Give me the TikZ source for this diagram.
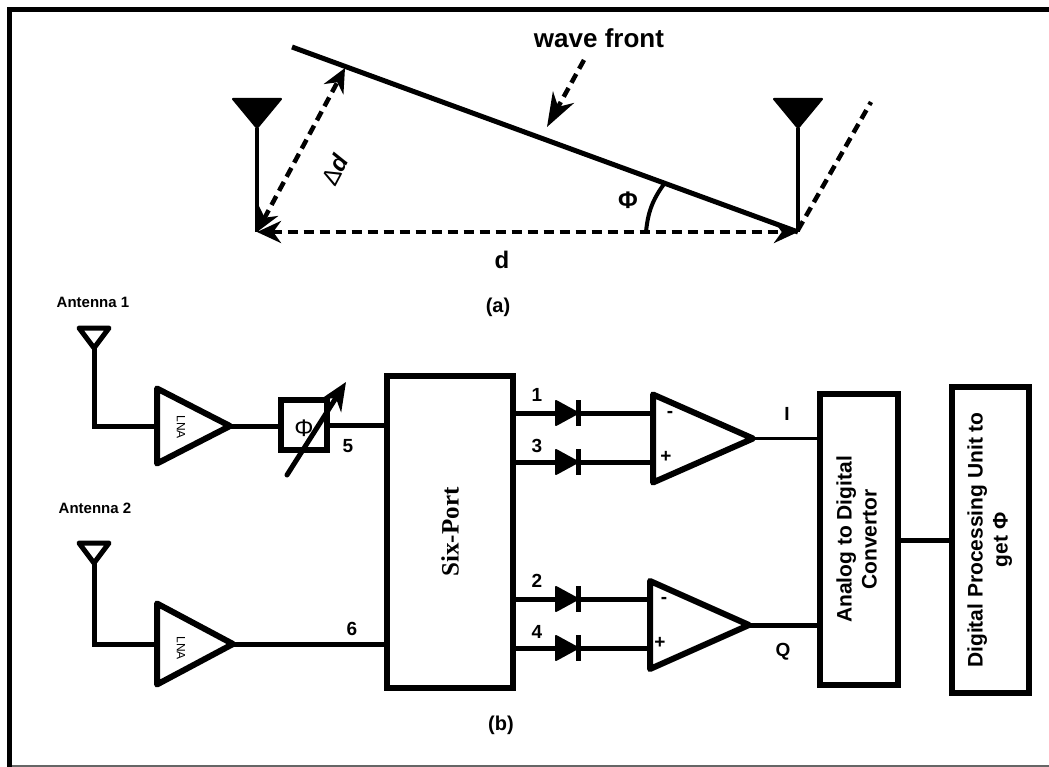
\documentclass[tikz,border=0pt]{standalone}
\usepackage{fontspec}
\setmainfont{Liberation Sans}
\newfontfamily\serifbold{Liberation Serif}
\usetikzlibrary{shapes.geometric, arrows.meta}
\tikzstyle{wire} = [line width=5pt]
\tikzstyle{stem} = [line width=4pt]
\tikzstyle{thinwire} = [line width=3pt]
\tikzstyle{dashline} = [line width=4.5pt, dash pattern=on 10pt off 6pt]
\tikzstyle{arrow} = [>={Stealth[length=24pt,width=22pt]}]
\tikzstyle{block} = [draw, rectangle, line width=6pt, inner sep=0pt, align=center, font=\bfseries\fontsize{21}{25}\selectfont]
\tikzstyle{amp} = [draw, isosceles triangle, isosceles triangle stretches, line width=6pt, line join=round, inner sep=0pt, outer sep=0pt, anchor=west]
\tikzstyle{diode} = [draw, fill, isosceles triangle, isosceles triangle stretches, line width=2pt, line join=round, minimum width=24pt, minimum height=22pt, inner sep=0pt, outer sep=0pt, anchor=west]
\tikzstyle{bigant} = [draw, fill, isosceles triangle, isosceles triangle stretches, shape border rotate=-90, line width=2pt, line join=round, minimum width=48pt, minimum height=29pt, inner sep=0pt, outer sep=0pt, anchor=apex]
\tikzstyle{smallant} = [draw, isosceles triangle, isosceles triangle stretches, shape border rotate=-90, line width=5pt, line join=round, minimum width=30pt, minimum height=20pt, inner sep=0pt, outer sep=0pt, anchor=apex]
\tikzstyle{lbl} = [font=\bfseries\fontsize{19}{22}\selectfont, inner sep=0pt]
\tikzstyle{biglbl} = [font=\bfseries\fontsize{24}{26}\selectfont, inner sep=0pt]
\tikzstyle{smalllbl} = [font=\bfseries\fontsize{15}{17}\selectfont, inner sep=0pt]
\tikzstyle{lnatext} = [font=\fontsize{12}{13}\selectfont, rotate=-90, inner sep=0pt]
\begin{document}
\begin{tikzpicture}[x=1pt, y=-1pt]
        \useasboundingbox (0,0) rectangle (1049,767);
        \draw [line width=5pt] (1049,9.5) -- (9.5,9.5) -- (9.5,767);
        \draw [line width=1.5pt, black!60] (12,766) -- (1049,766);

        % (a)
        \node [bigant] at (257,128) (antleft) {};
        \node [bigant] at (798,128) (antright) {};
        \coordinate (baseleft) at (257,232);
        \coordinate (baseright) at (798,232);
        \coordinate (wavestart) at (292,47);
        \coordinate (wavehit) at (345,68);
        \coordinate (rayend) at (871,102);
        \coordinate (raybase) at (798,230);
        \coordinate (windstart) at (584,60);
        \coordinate (windend) at (547,127);
        \coordinate (arcstart) at (646,232);
        \coordinate (arcend) at (664,184);
        \draw [stem] (antleft.apex) -- (baseleft);
        \draw [stem] (antright.apex) -- (baseright);
        \draw [wire] (wavestart) -- (baseright);
        \draw [dashline, arrow, <->] (baseleft) -- (baseright);
        \draw [dashline, arrow, <->] (baseleft) -- (wavehit);
        \draw [dashline] (raybase) -- (rayend);
        \draw [dashline, -{Stealth[length=34pt,width=24pt]}] (windstart) -- (windend);
        \draw [stem] (arcstart) to [bend left=15] (arcend);
        \node [biglbl, font=\bfseries\fontsize{26}{28}\selectfont] at (599,38) (wavelabel) {wave front};
        \node [biglbl] at (628,200) (philabel) {Φ};
        \node [biglbl, rotate=62] at (335,170) (deltalabel) {\mdseries Δ\bfseries\textit{d}};
        \node [biglbl] at (502,260) (dlabel) {d};
        \node [lbl, font=\bfseries\fontsize{20}{22}\selectfont] at (498,307) (alabel) {(a)};

        % (b)
        \node [smalllbl] at (93,302) (ant1label) {Antenna 1};
        \node [smalllbl] at (95,508) (ant2label) {Antenna 2};
        \node [smallant] at (94,348) (ant1) {};
        \node [smallant] at (94,563) (ant2) {};
        \node [amp, minimum width=75pt, minimum height=73pt] at (157,426) (lna1) {};
        \node [amp, minimum width=81pt, minimum height=76pt] at (157,644) (lna2) {};
        \node [lnatext] at (181,427) (lna1text) {LNA};
        \node [lnatext] at (181,648) (lna2text) {LNA};
        \node [block, minimum width=46pt, minimum height=50pt] at (304,425) (shifter) {};
        \node [font=\fontsize{24}{26}\selectfont, inner sep=0pt] at (304,428) (shiftertext) {Φ};
        \node [block, minimum width=126pt, minimum height=312pt, font=\serifbold\bfseries\fontsize{25}{28}\selectfont] at (450,532) (sixport) {\rotatebox{90}{Six-Port}};
        \coordinate (arrowstart) at (287,475);
        \coordinate (arrowend) at (346,382);
        \draw [wire] (ant1.apex) |- (lna1.west);
        \draw [wire] (ant2.apex) |- (lna2.west);
        \draw [wire] (lna1.apex) -- (shifter.west |- lna1.apex);
        \draw [wire] (shifter.east) -- (sixport.west |- shifter.east);
        \draw [wire] (lna2.apex) -- (sixport.west |- lna2.apex);
        \draw [wire, line cap=round, -{Stealth[length=28pt,width=24pt]}] (arrowstart) -- (arrowend);
        \node [lbl] at (348,446) (port5) {5};
        \node [lbl] at (352,629) (port6) {6};

        \node [diode] at (556,413) (d1) {};
        \node [diode] at (556,462) (d3) {};
        \node [diode] at (556,599) (d2) {};
        \node [diode] at (556,648) (d4) {};
        \node [amp, minimum width=88pt, minimum height=100pt] at (653,438.5) (opa) {};
        \node [amp, minimum width=88pt, minimum height=99pt] at (650,625) (opb) {};
        \node [block, minimum width=78pt, minimum height=291pt] at (859,539.5) (adc) {\rotatebox{90}{\begin{tabular}{@{}c@{}}Analog to Digital\\Convertor\end{tabular}}};
        \node [block, minimum width=77pt, minimum height=306pt] at (990,540) (dpu) {\rotatebox{90}{\begin{tabular}{@{}c@{}}Digital Processing Unit to\\get Φ\end{tabular}}};
        \draw [wire] (sixport.east |- d1.west) -- (d1.west);
        \draw [wire] (sixport.east |- d3.west) -- (d3.west);
        \draw [wire] (sixport.east |- d2.west) -- (d2.west);
        \draw [wire] (sixport.east |- d4.west) -- (d4.west);
        \draw [wire] (d1.apex) -- (opa.west |- d1.apex);
        \draw [wire] (d3.apex) -- (opa.west |- d3.apex);
        \draw [wire] (d2.apex) -- (opb.west |- d2.apex);
        \draw [wire] (d4.apex) -- (opb.west |- d4.apex);
        \draw [wire] ([yshift=13pt]d1.apex) -- ([yshift=-13pt]d1.apex);
        \draw [wire] ([yshift=13pt]d3.apex) -- ([yshift=-13pt]d3.apex);
        \draw [wire] ([yshift=13pt]d2.apex) -- ([yshift=-13pt]d2.apex);
        \draw [wire] ([yshift=13pt]d4.apex) -- ([yshift=-13pt]d4.apex);
        \draw [thinwire] (opa.apex) -- (adc.west |- opa.apex);
        \draw [wire] (opb.apex) -- (adc.west |- opb.apex);
        \draw [wire] (adc.east |- dpu.west) -- (dpu.west);
        \node [lbl] at (537,395) (port1) {1};
        \node [lbl] at (537,446) (port3) {3};
        \node [lbl] at (537,581) (port2) {2};
        \node [lbl] at (537,632) (port4) {4};
        \node [lbl] at (670,414) (minusa) {-};
        \node [lbl] at (666,457) (plusa) {+};
        \node [lbl] at (664,600) (minusb) {-};
        \node [lbl] at (660,643) (plusb) {+};
        \node [lbl] at (787,414) (outi) {I};
        \node [lbl] at (783,652) (outq) {Q};
        \node [lbl, font=\bfseries\fontsize{20}{22}\selectfont] at (501,725) (blabel) {(b)};
\end{tikzpicture}
\end{document}
